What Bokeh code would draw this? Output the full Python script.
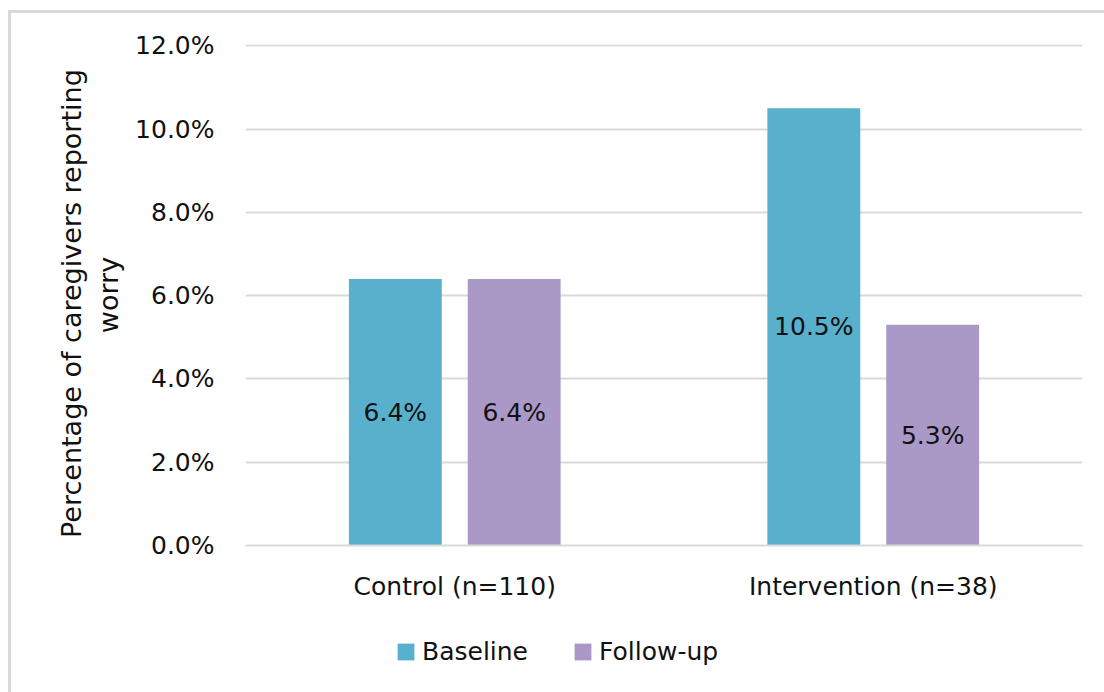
from bokeh.plotting import figure
from bokeh.layouts import column
from bokeh.models import ColumnDataSource, Legend, LegendItem, FixedTicker, CustomJSTickFormatter, Range1d
from bokeh.transform import dodge
from bokeh.embed import file_html
from bokeh.resources import INLINE

groups = ["Control (n=110)", "Intervention (n=38)"]
baseline = [6.4, 10.5]
follow_up = [6.4, 5.3]
series_names = ["Baseline", "Follow-up"]
y_ticks = [0, 2, 4, 6, 8, 10, 12]

BLUE = "#58B0CC"
PURPLE = "#AA99C7"
GRID = "#d9d9d9"
INK = "#111111"
FONT = "DejaVu Sans"
FS = "25px"

src = ColumnDataSource(dict(
    grp=groups,
    base=baseline,
    foll=follow_up,
    base_mid=[v / 2 for v in baseline],
    foll_mid=[v / 2 for v in follow_up],
    base_lbl=[f"{v:.1f}%" for v in baseline],
    foll_lbl=[f"{v:.1f}%" for v in follow_up],
))

p = figure(
    x_range=groups, y_range=Range1d(0, 12.03),
    frame_width=837, frame_height=501,
    output_backend="svg", toolbar_location=None,
    min_border_left=234, min_border_right=22, min_border_top=31, min_border_bottom=70,
)

bw = 0.222
off = 0.142
p.vbar(x=dodge("grp", -off, range=p.x_range), top="base", width=bw,
       source=src, fill_color=BLUE, line_color=None)
p.vbar(x=dodge("grp", off, range=p.x_range), top="foll", width=bw,
       source=src, fill_color=PURPLE, line_color=None)

# value labels sit in the middle of each bar
p.text(x=dodge("grp", -off, range=p.x_range), y="base_mid", text="base_lbl", source=src,
       text_align="center", text_baseline="middle", text_font_size=FS,
       text_color=INK, text_font={"value": FONT})
p.text(x=dodge("grp", off, range=p.x_range), y="foll_mid", text="foll_lbl", source=src,
       text_align="center", text_baseline="middle", text_font_size=FS,
       text_color=INK, text_font={"value": FONT})

p.outline_line_color = None
p.xgrid.grid_line_color = None
p.ygrid.grid_line_color = GRID
p.ygrid.grid_line_width = 2

p.yaxis.ticker = FixedTicker(ticks=y_ticks)
p.yaxis.formatter = CustomJSTickFormatter(code="return tick.toFixed(1) + '%';")
p.yaxis.axis_line_color = None
p.yaxis.major_tick_line_color = None
p.yaxis.minor_tick_line_color = None
p.yaxis.major_label_text_font = FONT
p.yaxis.major_label_text_font_size = FS
p.yaxis.major_label_text_color = INK
p.yaxis.major_label_standoff = 25
p.yaxis.axis_label = "Percentage  of caregivers  reporting\nworry"
p.yaxis.axis_label_text_font = FONT
p.yaxis.axis_label_text_font_size = "27px"
p.yaxis.axis_label_text_font_style = "normal"
p.yaxis.axis_label_text_color = INK
p.yaxis.axis_label_text_align = "center"
p.yaxis.axis_label_standoff = 8

p.xaxis.axis_line_color = GRID
p.xaxis.axis_line_width = 2
p.xaxis.major_tick_line_color = None
p.xaxis.minor_tick_line_color = None
p.xaxis.major_label_text_font = FONT
p.xaxis.major_label_text_font_size = FS
p.xaxis.major_label_text_color = INK
p.xaxis.major_label_standoff = 20

# legend strip underneath the chart; its key bars lie outside the strip's y range
leg = figure(width=1093, height=77, output_backend="svg", toolbar_location=None,
             min_border=0, x_range=groups, y_range=(100, 101))
leg.axis.visible = False
leg.grid.visible = False
leg.outline_line_color = None
k_base = leg.vbar(x="grp", top="base", width=bw, source=src, fill_color=BLUE, line_color=None)
k_foll = leg.vbar(x="grp", top="foll", width=bw, source=src, fill_color=PURPLE, line_color=None)

legend = Legend(items=[LegendItem(label=series_names[0], renderers=[k_base]),
                       LegendItem(label=series_names[1], renderers=[k_foll])],
                orientation="horizontal", location=(150, 26),
                label_text_font=FONT, label_text_font_size=FS,
                label_text_color=INK, glyph_width=21, glyph_height=21,
                spacing=44, label_standoff=6, border_line_color=None,
                background_fill_alpha=0, padding=10, margin=0)
leg.add_layout(legend)

page = column(p, leg, spacing=0)
page.margin = (10, 0, 0, 8)
page.styles = {"border-top": "3px solid #d9d9d9", "border-left": "3px solid #d9d9d9"}

open("out.html", "w").write(file_html(page, INLINE))
